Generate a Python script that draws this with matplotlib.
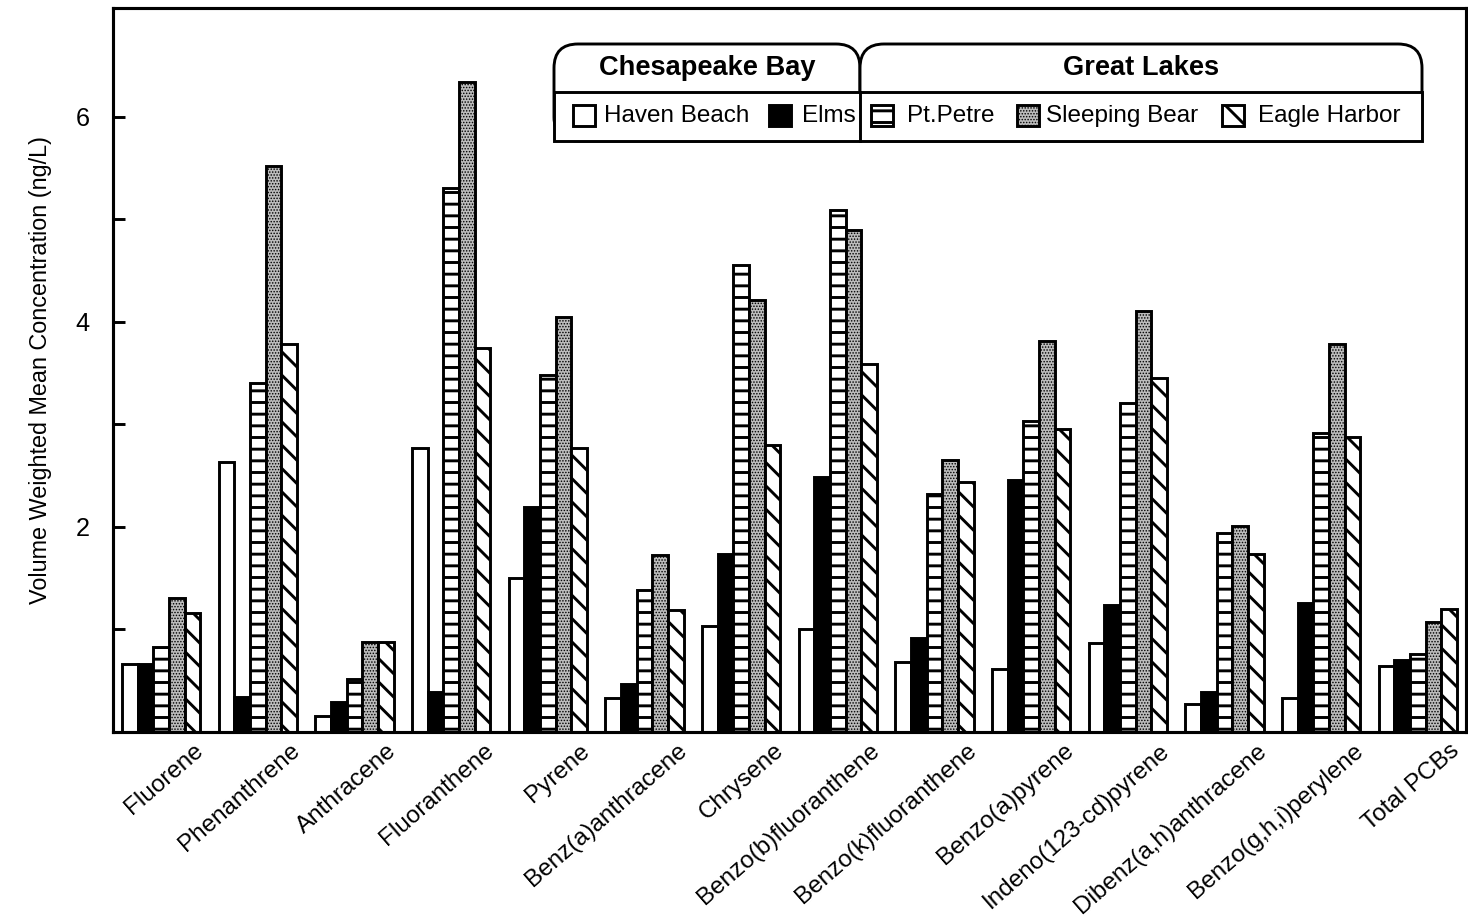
import numpy as np
import matplotlib.pyplot as plt
from matplotlib.patches import Rectangle, FancyBboxPatch
from matplotlib.transforms import ScaledTranslation

plt.rcParams["font.family"] = ["Liberation Sans", "DejaVu Sans"]
plt.rcParams["hatch.linewidth"] = 1.5

compounds = ["Fluorene", "Phenanthrene", "Anthracene", "Fluoranthene", "Pyrene",
             "Benz(a)anthracene", "Chrysene", "Benzo(b)fluoranthene",
             "Benzo(k)fluoranthene", "Benzo(a)pyrene", "Indeno(123-cd)pyrene",
             "Dibenz(a,h)anthracene", "Benzo(g,h,i)perylene", "Total PCBs"]
sites = ["Haven Beach", "Elms", "Pt.Petre", "Sleeping Bear", "Eagle Harbor"]

haven_beach = [0.66, 2.63, 0.16, 2.77, 1.50, 0.33, 1.03, 1.00, 0.68, 0.61, 0.87, 0.27, 0.33, 0.64]
elms = [0.66, 0.34, 0.29, 0.39, 2.19, 0.47, 1.74, 2.49, 0.92, 2.46, 1.24, 0.39, 1.26, 0.70]
pt_petre = [0.83, 3.40, 0.52, 5.30, 3.48, 1.38, 4.55, 5.09, 2.32, 3.03, 3.21, 1.94, 2.92, 0.76]
sleeping_bear = [1.31, 5.52, 0.88, 6.34, 4.05, 1.73, 4.21, 4.90, 2.65, 3.81, 4.11, 2.01, 3.78, 1.07]
eagle_harbor = [1.16, 3.78, 0.88, 3.74, 2.77, 1.19, 2.80, 3.59, 2.44, 2.95, 3.45, 1.74, 2.88, 1.20]

series = [haven_beach, elms, pt_petre, sleeping_bear, eagle_harbor]
styles = [
    dict(facecolor="white", hatch=None),
    dict(facecolor="black", hatch=None),
    dict(facecolor="white", hatch="--"),
    dict(facecolor="#bcbcbc", hatch="........"),
    dict(facecolor="white", hatch="\\\\"),
]
hatch_lw = [1.5, 1.5, 1.5, 0.5, 1.5]

W, H, DPI = 1469, 916, 140
fig = plt.figure(figsize=(W / DPI, H / DPI), dpi=DPI)
ax = fig.add_axes([113 / W, 1 - 732 / H, (1466 - 113) / W, (732 - 8) / H])

x = np.arange(len(compounds))
width = 0.162
for k, (vals, st) in enumerate(zip(series, styles)):
    with plt.rc_context({"hatch.linewidth": hatch_lw[k]}):
        ax.bar(x + (k - 2) * width, vals, width, edgecolor="black", linewidth=1.5,
               label=sites[k], **st)

ax.set_xlim(-0.5, len(compounds) - 0.5)
ax.set_ylim(0, 7.06)
ax.set_yticks([2, 4, 6])
ax.set_yticks([0, 1, 3, 5], minor=True)
ax.tick_params(axis="y", which="both", direction="in", length=6, width=1.5,
               labelsize=13, pad=12)
ax.set_xticks(x)
ax.set_xticklabels(compounds, rotation=41, ha="right", rotation_mode="anchor",
                   fontsize=12.5)
ax.tick_params(axis="x", length=0, pad=4)
shift = ScaledTranslation(32 / DPI, 0, fig.dpi_scale_trans)
for lab in ax.get_xticklabels():
    lab.set_transform(lab.get_transform() + shift)
for sp in ax.spines.values():
    sp.set_linewidth(1.6)
ax.set_ylabel("Volume Weighted Mean Concentration (ng/L)", fontsize=12, labelpad=12)

# legend drawn by hand in pixel coordinates
lax = fig.add_axes([0, 0, 1, 1])
lax.set_xlim(0, W)
lax.set_ylim(H, 0)
lax.axis("off")
lw = 1.5
for x0, x1, title in [(554, 860, "Chesapeake Bay"), (860, 1422, "Great Lakes")]:
    lax.add_patch(FancyBboxPatch((x0, 44), x1 - x0, 97,
                                 boxstyle="round,pad=0,rounding_size=24",
                                 facecolor="white", edgecolor="black", linewidth=lw))
    lax.text((x0 + x1) / 2, 68, title, ha="center", va="center",
             fontsize=14, fontweight="bold")
lax.add_patch(Rectangle((554, 92), 868, 49, facecolor="white", edgecolor="black",
                        linewidth=lw))
lax.plot([860, 860], [92, 141], color="black", linewidth=lw)

swatch_x = [573, 769, 871, 1017, 1222]
text_x = [604, 802, 907, 1046, 1258]
for k, st in enumerate(styles):
    with plt.rc_context({"hatch.linewidth": hatch_lw[k]}):
        lax.add_patch(Rectangle((swatch_x[k], 105), 22, 21, edgecolor="black",
                                linewidth=1.5, **st))
    lax.text(text_x[k], 116, sites[k], ha="left", va="center", fontsize=12.5)

fig.savefig("out.png", dpi=DPI)
